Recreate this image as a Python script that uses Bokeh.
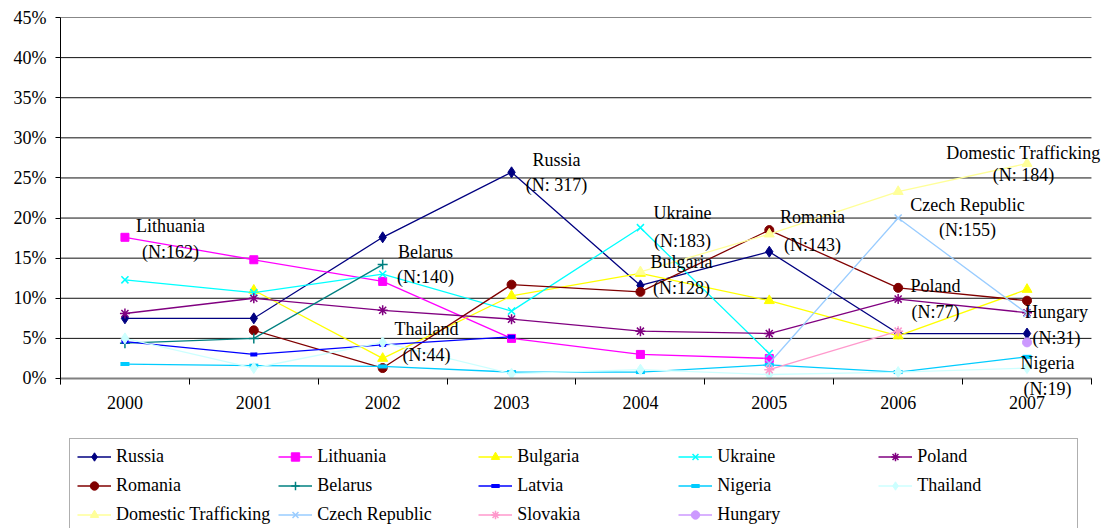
from bokeh.plotting import figure
from bokeh.models import (Range1d, FixedTicker, PrintfTickFormatter, Legend, LegendItem,
                          ColumnDataSource, LabelSet)
from bokeh.embed import file_html
from bokeh.resources import INLINE

years = ["2000", "2001", "2002", "2003", "2004", "2005", "2006", "2007"]

russia = [7.5, 7.5, 17.6, 25.7, 11.6, 15.8, 5.6, 5.6]
lithuania = [17.6, 14.8, 12.1, 5.0, 3.0, 2.5, None, None]
bulgaria = [None, 11.0, 2.5, 10.3, 13.1, 9.7, 5.3, 11.1]
ukraine = [12.3, 10.7, 13.0, 8.4, 18.8, 3.1, None, None]
poland = [8.1, 10.0, 8.5, 7.4, 5.9, 5.6, 9.9, 8.2]
romania = [None, 6.0, 1.3, 11.7, 10.8, 18.5, 11.3, 9.7]
belarus = [4.4, 5.0, 14.2, None, None, None, None, None]
latvia = [4.6, 3.0, 4.2, 5.2, None, None, None, None]
nigeria = [1.8, 1.6, 1.5, 0.8, 0.8, 1.7, 0.8, 2.7]
thailand = [5.0, 1.3, 4.5, 0.6, 1.1, 0.5, 0.8, 1.3]
domestic = [None, None, None, None, 13.3, 18.0, 23.3, 26.8]
czech = [None, None, None, None, None, 1.9, 20.0, 8.1]
slovakia = [None, None, None, None, None, 1.1, 5.9, None]
hungary = [None, None, None, None, None, None, None, 4.5]

y_ticks = [0, 5, 10, 15, 20, 25, 30, 35, 40, 45]

series = [
    ("Russia", russia, "#000080", "diamond", 11),
    ("Lithuania", lithuania, "#FF00FF", "square", 8),
    ("Bulgaria", bulgaria, "#FFFF00", "triangle", 10),
    ("Ukraine", ukraine, "#00FFFF", "x", 10),
    ("Poland", poland, "#800080", "asterisk", 10),
    ("Romania", romania, "#800000", "circle", 9),
    ("Belarus", belarus, "#008080", "cross", 10),
    ("Latvia", latvia, "#0000FF", "dash", 7),
    ("Nigeria", nigeria, "#00CCFF", "dash", 9),
    ("Thailand", thailand, "#CCFFFF", "diamond", 11),
    ("Domestic Trafficking", domestic, "#FFFF99", "triangle", 10),
    ("Czech Republic", czech, "#99CCFF", "x", 10),
    ("Slovakia", slovakia, "#FF99CC", "asterisk", 10),
    ("Hungary", hungary, "#CC99FF", "circle", 9),
]

# annotation labels (name, N-label, x position in year-index units, y of name, y of N line)
ann_names = ["Lithuania", "Russia", "Belarus", "Thailand", "Ukraine", "Bulgaria", "Romania",
             "Domestic Trafficking", "Czech Republic", "Poland", "Hungary", "Nigeria"]
ann_counts = ["(N:162)", "(N: 317)", "(N:140)", "(N:44)", "(N:183)", "(N:128)", "(N:143)",
              "(N: 184)", "(N:155)", "(N:77)", "(N:31)", "(N:19)"]
ann_x = [0.354, 3.349, 2.332, 2.340, 4.326, 4.319, 5.335, 6.972, 6.538, 6.290, 7.228, 7.159]
ann_y_name = [18.95, 27.18, 15.83, 6.11, 20.57, 14.58, 20.07, 28.17, 21.57, 11.47, 8.23, 1.99]
ann_y_count = [15.71, 24.06, 12.59, 2.87, 17.20, 11.34, 16.70, 25.31, 18.45, 8.23, 4.99, -1.25]

FONT = "Liberation Serif"
n = len(years)

# frame extends past the category area (right) and below 0 (legend area), so
# labels and legend outside the axes box are not clipped
p = figure(width=1109, height=528, output_backend="svg", toolbar_location=None,
           x_range=Range1d(-0.5, n - 0.5 + 0.14), y_range=Range1d(-18.7, 45),
           min_border_left=60, min_border_right=0, min_border_top=17, min_border_bottom=0)
p.outline_line_color = None
p.background_fill_color = "white"
p.border_fill_color = "white"
p.xgrid.visible = False
p.ygrid.visible = False

# horizontal gridlines limited to the category area
p.segment(x0=[-0.5] * len(y_ticks), y0=y_ticks, x1=[n - 0.5] * len(y_ticks), y1=y_ticks,
          line_color="#111111", line_width=1)

# axes
xax = p.xaxis[0]
xax.fixed_location = 0
xax.bounds = (-0.5, n - 0.5)
xax.ticker = FixedTicker(ticks=list(range(n)), minor_ticks=[i - 0.5 for i in range(n + 1)])
xax.major_label_overrides = {i: y for i, y in enumerate(years)}
xax.major_tick_line_color = None
xax.major_tick_out = 6
xax.major_tick_in = 0
xax.minor_tick_line_color = "#000000"
xax.minor_tick_out = 6
xax.minor_tick_in = 0
xax.axis_line_color = "#808080"
xax.axis_line_width = 2
xax.major_label_standoff = 12
xax.major_label_text_font = FONT
xax.major_label_text_font_size = "18px"
xax.major_label_text_color = "black"

yax = p.yaxis[0]
yax.bounds = (-0.75, 45)
yax.ticker = FixedTicker(ticks=y_ticks)
yax.formatter = PrintfTickFormatter(format="%d%%")
yax.major_tick_out = 5
yax.major_tick_in = 0
yax.minor_tick_line_color = None
yax.axis_line_color = "black"
yax.major_tick_line_color = "black"
yax.major_label_standoff = 9
yax.major_label_text_font = FONT
yax.major_label_text_font_size = "18px"
yax.major_label_text_color = "black"

items = []
for name, vals, color, marker, size in series:
    xs = [i for i, v in enumerate(vals) if v is not None]
    ys = [v for v in vals if v is not None]
    src = ColumnDataSource(dict(x=xs, y=ys))
    rs = []
    rs.append(p.line("x", "y", source=src, line_color=color, line_width=1.3))
    if marker == "dash":
        rs.append(p.scatter("x", "y", source=src, marker="dash", size=size,
                            line_color=color, line_width=4))
    elif marker in ("x", "cross", "asterisk"):
        rs.append(p.scatter("x", "y", source=src, marker=marker, size=size,
                            line_color=color, line_width=1.5))
    else:
        rs.append(p.scatter("x", "y", source=src, marker=marker, size=size,
                            line_color=color, fill_color=color))
    items.append(LegendItem(label=name, renderers=rs))

name_src = ColumnDataSource(dict(x=ann_x, y=ann_y_name, t=ann_names))
count_src = ColumnDataSource(dict(x=ann_x, y=ann_y_count, t=ann_counts))
for src in (name_src, count_src):
    p.add_layout(LabelSet(x="x", y="y", text="t", source=src, text_align="center",
                          text_baseline="middle", text_font=FONT, text_font_size="18px",
                          text_color="black"))

legend = Legend(items=items, location=(9, -5), orientation="horizontal", ncols=5,
                glyph_width=34, glyph_height=21, label_height=21, label_width=153,
                label_standoff=5, spacing=8, padding=7, margin=0,
                label_text_font=FONT, label_text_font_size="18px", label_text_color="black",
                border_line_color="#606060", border_line_width=1.5,
                background_fill_color="white", background_fill_alpha=1.0)
p.add_layout(legend, "center")

open("out.html", "w").write(file_html(p, INLINE))
